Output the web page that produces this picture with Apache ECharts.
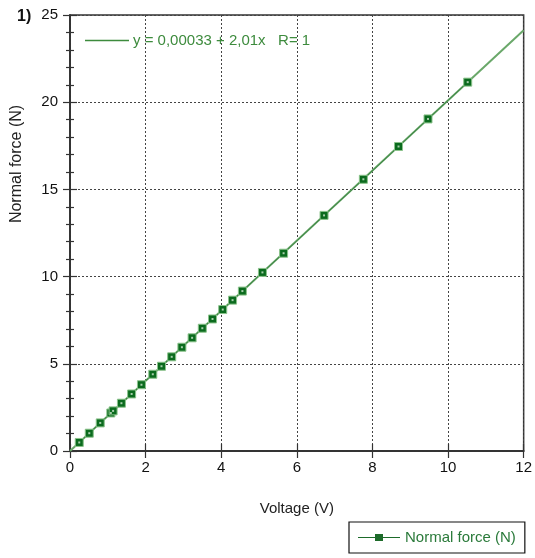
<!DOCTYPE html>
<html><head><meta charset="utf-8">
<script src="https://cdn.jsdelivr.net/npm/echarts@6/dist/echarts.min.js"></script>
<style>html,body{margin:0;padding:0;background:#fff}#c{width:535px;height:558px}</style>
</head><body><div id="c"></div>
<script>
const voltage = [0.245, 0.51, 0.80, 1.08, 1.14, 1.36, 1.63, 1.89, 2.19, 2.42, 2.69, 2.96, 3.23, 3.50, 3.77, 4.04, 4.30, 4.56, 5.09, 5.65, 6.72, 7.76, 8.69, 9.47, 10.52];
const force   = [0.49, 1.02, 1.61, 2.18, 2.30, 2.74, 3.27, 3.80, 4.40, 4.86, 5.40, 5.95, 6.49, 7.04, 7.57, 8.11, 8.65, 9.17, 10.24, 11.34, 13.51, 15.58, 17.46, 19.04, 21.15];
const fitX = [0, 12];
const fitY = [0.00033, 24.12033];
const fitName = 'y = 0,00033 + 2,01x   R= 1';
const seriesName = 'Normal force (N)';
const xTitle = 'Voltage (V)';
const yTitle = 'Normal force (N)';
const panelLabel = '1)';

const font = 'Liberation Sans, Arial, sans-serif';
const pts = voltage.map((v, i) => [v, force[i]]);
const fitPts = fitX.map((v, i) => [v, fitY[i]]);
const chart = echarts.init(document.getElementById('c'));
const axisLine = {show: true, lineStyle: {color: '#333', width: 1.5}};
const split = {show: true, lineStyle: {color: '#444', type: [2, 2], width: 1}};
const tick = {show: true, inside: true, length: 7, lineStyle: {color: '#333', width: 1.2}};
const minor = {show: true, splitNumber: 5, length: 4, lineStyle: {color: '#333', width: 1.2}};
chart.setOption({
  animation: false,
  grid: {left: 70, top: 15, width: 455, height: 436, containLabel: false,
         show: true, borderColor: '#333', borderWidth: 1.5, backgroundColor: 'transparent'},
  xAxis: [
    {type: 'value', min: 0, max: 12, interval: 2, position: 'bottom',
     axisLine, axisTick: tick,
     axisLabel: {color: '#111', fontFamily: font, fontSize: 15, margin: 9},
     splitLine: split,
     name: xTitle, nameLocation: 'middle', nameGap: 50,
     nameTextStyle: {color: '#222', fontFamily: font, fontSize: 15}},
    {type: 'value', min: 0, max: 12, interval: 2, position: 'top',
     axisLine, axisTick: tick, axisLabel: {show: false}, splitLine: {show: false}}
  ],
  yAxis: [
    {type: 'value', min: 0, max: 25, interval: 5, position: 'left',
     axisLine, axisTick: tick, minorTick: minor,
     axisLabel: {color: '#111', fontFamily: font, fontSize: 15, margin: 12},
     splitLine: split},
    {type: 'value', min: 0, max: 25, interval: 5, position: 'right',
     axisLine, axisTick: tick, minorTick: minor,
     axisLabel: {show: false}, splitLine: {show: false}}
  ],
  legend: [
    {data: [{name: fitName, icon: 'path://M0,0L44,0L44,1.5L0,1.5Z'}], left: 85, top: 33,
     itemWidth: 44, itemHeight: 1.5, itemGap: 4,
     textStyle: {color: '#3d8b3d', fontFamily: font, fontSize: 15, padding: [0, 0, 0, -1]},
     padding: 0, selectedMode: false},
    {data: [{name: seriesName,
             icon: 'path://M0,5.4L17,5.4L17,2.5L25,2.5L25,5.4L42,5.4L42,6.6L25,6.6L25,9.5L17,9.5L17,6.6L0,6.6Z',
             itemStyle: {color: '#1d6b2a', borderWidth: 0}}],
     left: 349, top: 522, itemWidth: 42, itemHeight: 12,
     itemStyle: {color: '#1d6b2a', borderWidth: 0},
     lineStyle: {color: '#1d6b2a', width: 1},
     borderColor: '#111', borderWidth: 1.2, padding: [8, 9, 8, 9], selectedMode: false,
     textStyle: {color: '#2a7a3a', fontFamily: font, fontSize: 15}}
  ],
  graphic: [
    {type: 'text', left: 17, top: 9, style: {text: panelLabel, font: 'bold 16px ' + font, fill: '#111'}},
    {type: 'text', x: 17, y: 164, rotation: Math.PI / 2, style: {text: yTitle, font: '16px ' + font, fill: '#222', align: 'center', verticalAlign: 'middle'}}
  ],
  series: [
    {name: fitName, type: 'line', data: fitPts, showSymbol: false, symbol: 'none',
     lineStyle: {color: '#6aa86a', width: 2}, itemStyle: {color: '#3d8b3d'}, z: 2, silent: true},
    {name: seriesName, type: 'line', data: pts, symbol: 'rect', symbolSize: 8, showAllSymbol: true,
     lineStyle: {color: '#2f7a3a', width: 0.8},
     itemStyle: {color: '#0b6b1e', borderColor: '#8cc48c', borderWidth: 1}, z: 3, silent: true},
    {name: 'dots', type: 'scatter', data: pts, symbol: 'rect', symbolSize: 2,
     itemStyle: {color: '#cfe6cf'}, z: 4, silent: true}
  ]
});
</script></body></html>
